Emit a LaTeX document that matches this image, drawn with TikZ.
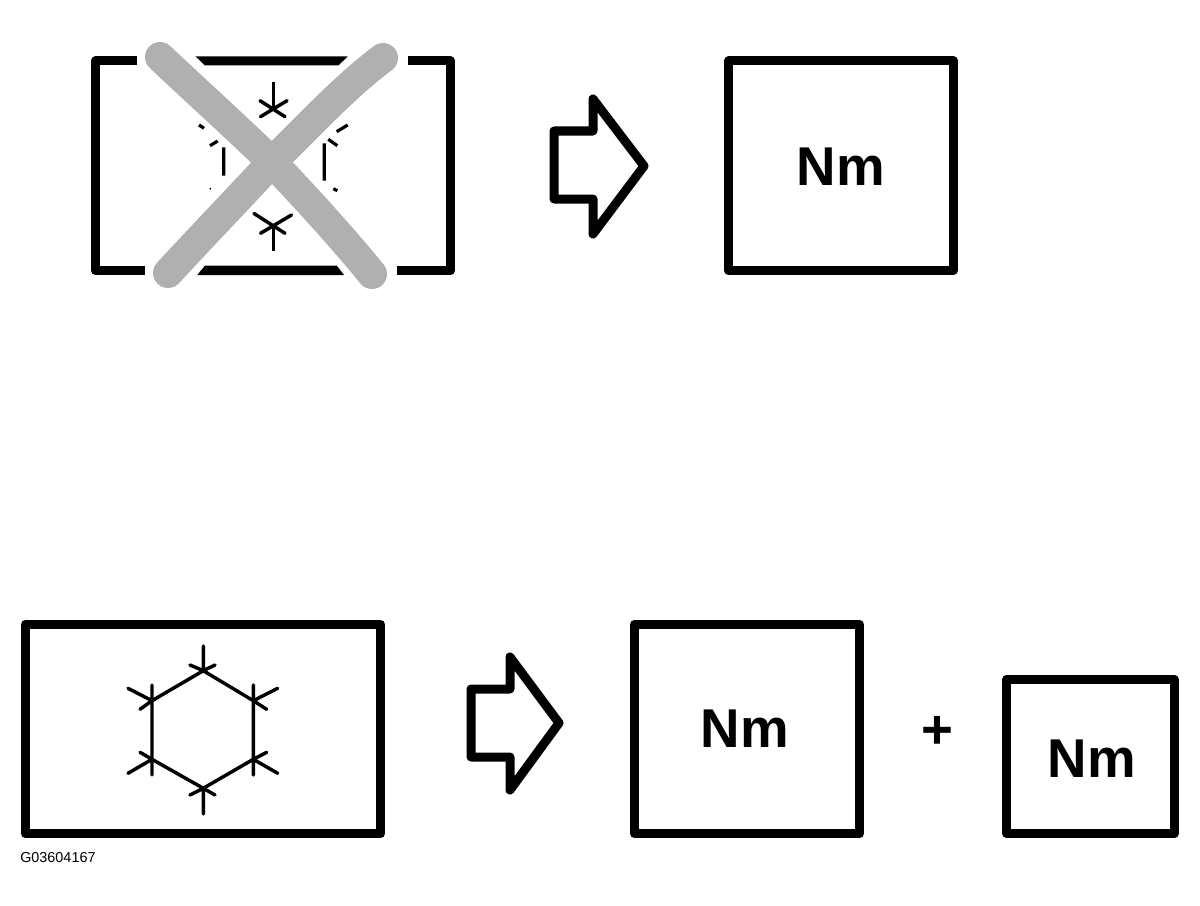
\documentclass[tikz,border=0pt]{standalone}
\usepackage{fontspec}
\setmainfont{Liberation Sans}
\tikzset{
  heavy/.style={line width=6.75pt,line join=round,draw=black},
  thin line/.style={line width=2.6pt,draw=black,line cap=round},
  frag/.style={line width=2.4pt,draw=black,line cap=butt},
  box/.style={heavy,rectangle,inner sep=0pt,outer sep=0pt},
  label/.style={font=\bfseries\fontsize{41}{41}\selectfont,inner sep=0pt},
  cross/.style={line width=22.5pt,draw=crossgray,line cap=round},
}
\definecolor{crossgray}{HTML}{B0B0B0}
\begin{document}
\begin{tikzpicture}[x=0.75pt,y=-0.75pt]
\useasboundingbox (0,0) rectangle (1200,906);
% --- upper frame, interrupted by the cross
\draw[heavy] (136.7,61) -- (95.5,61) -- (95.5,270.5) -- (145,270.5);
\draw[heavy] (408,61) -- (450.5,61) -- (450.5,270.5) -- (396.7,270.5);
\fill[black] (195.7,56.5) -- (347.7,56.5) -- (338.3,65.5) -- (205,65.5) -- cycle;
\fill[black] (205,265.5) -- (336.7,265.5) -- (344,275) -- (197.3,275) -- cycle;
% --- remains of the hexagon
\draw[thin line,line cap=butt] (273.3,81.7) -- (273.3,108);
\draw[thin line] (260,100.7) -- (285,116.7) (287,100.7) -- (260.5,116.7);
\draw[thin line,line cap=butt] (273.3,251) -- (273.3,225);
\draw[thin line] (254,213.5) -- (285,233.3) (291.5,215) -- (260.5,233.3);
\draw[frag] (199,125) -- (204,128.3) (210,145.7) -- (217.7,141) (223.7,147.3) -- (223.7,175.7);
\fill[black] (210.3,188.7) circle (1);
\draw[frag] (336.7,131.7) -- (347.7,125) (328.3,139.3) -- (337.3,145.7) (324.3,143.3) -- (324.3,180.7) (333.3,188.7) -- (337.3,190.7);
% --- cross
\draw[cross] (160,57) .. controls (197,92) and (236,127) .. (272,162) .. controls (306,198) and (341,236) .. (372,274);
\draw[cross] (383,58) .. controls (348,84) and (310,124) .. (272,162) .. controls (238,199) and (202,236) .. (168,273);
% --- upper arrow and box
\draw[heavy] (554,131) -- (593,131) -- (593,99) -- (644,166) -- (593,234) -- (593,199) -- (554,199) -- cycle;
\node[box,minimum width=168.75pt,minimum height=157.1pt] (upperbox) at (841,165.7) {};
\node[label] (uppernm) at (841,167) {Nm};
% --- lower frame and hexagon
\node[box,minimum width=266.25pt,minimum height=157.1pt] (lowerframe) at (203,729) {};
\draw[thin line,line join=round] (203.3,670.7) -- (253.3,700.7) -- (253.3,759.3) -- (203.3,788.3) -- (152,759.3) -- (152,700.7) -- cycle;
\draw[thin line] (203.3,646) -- (203.3,670.7) (190,665) -- (203.3,670.7) -- (215,665);
\draw[thin line] (277.7,688.3) -- (253.3,700.7) (253.3,685) -- (253.3,700.7) -- (266.7,709.3);
\draw[thin line] (277.7,773.3) -- (253.3,759.3) (266.7,752.3) -- (253.3,759.3) -- (253.3,775);
\draw[thin line] (203.3,814) -- (203.3,788.3) (190,795) -- (203.3,788.3) -- (215,795);
\draw[thin line] (128,773.3) -- (152,759.3) (140,752.3) -- (152,759.3) -- (152,775);
\draw[thin line] (128,688.3) -- (152,700.7) (152,685) -- (152,700.7) -- (140,709.3);
% --- lower arrow and boxes
\draw[heavy] (471,689) -- (510,689) -- (510,657) -- (559,723) -- (510,790) -- (510,757) -- (471,757) -- cycle;
\node[box,minimum width=168.75pt,minimum height=157.1pt] (midbox) at (747,729) {};
\node[label] (midnm) at (745,729) {Nm};
\node[label] (plus) at (937,732) {+};
\node[box,minimum width=125.6pt,minimum height=116pt] (smallbox) at (1090.5,756.5) {};
\node[label] (smallnm) at (1092,759) {Nm};
\node[font=\fontsize{10.8}{12}\selectfont,inner sep=0pt,anchor=west] (code) at (20,858) {G03604167};
\end{tikzpicture}
\end{document}
